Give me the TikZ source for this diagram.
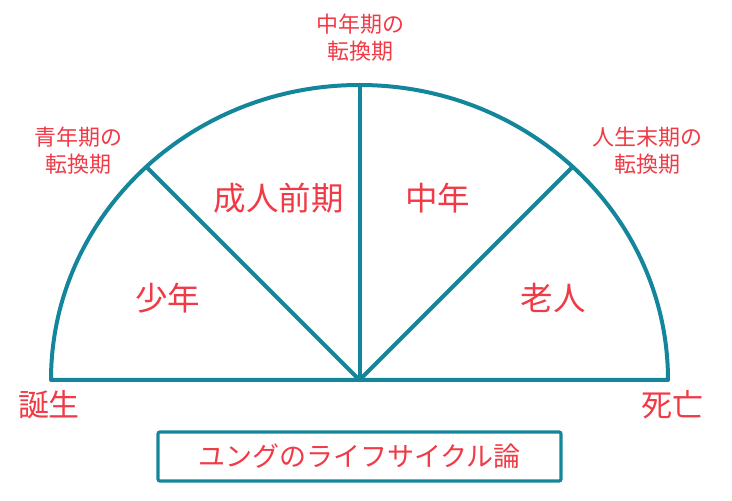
\documentclass[tikz,border=0pt]{standalone}
\usepackage{fontspec}
\newfontfamily\jpfont{Noto Sans CJK JP}
\usepackage{xcolor}
\usetikzlibrary{positioning,calc}
\definecolor{lineteal}{RGB}{20,134,156}
\definecolor{labelred}{RGB}{240,58,70}
\tikzset{
  arcline/.style={draw=lineteal, line width=4pt, line join=round},
  turnlabel/.style={text=labelred, font=\jpfont\fontsize{22}{27}\selectfont, align=center, inner sep=0pt},
  stagelabel/.style={text=labelred, font=\jpfont\fontsize{32.5}{36}\selectfont, inner sep=0pt},
  endlabel/.style={text=labelred, font=\jpfont\fontsize{31}{35}\selectfont, inner sep=0pt},
  titlebox/.style={draw=lineteal, line width=3.2pt, rounded corners=2pt, minimum width=403pt, minimum height=49pt, text=labelred, font=\jpfont\fontsize{27}{30}\selectfont}
}

\begin{document}
\begin{tikzpicture}[x=1pt, y=1pt]
        % Fix the canvas size
        \useasboundingbox (0,0) rectangle (732,501);
        \def\xrad{308.5}
        \def\yrad{295}

        % Define the centre and the points on the half circle
        \coordinate (centre) at (359.5,121);
        \coordinate (birth) at ($(centre)+(180:{\xrad})$);
        \coordinate (death) at ($(centre)+(0:{\xrad})$);
        \coordinate (youthturn) at ($(centre)+(133.72:{\xrad} and {\yrad})$);
        \coordinate (midturn) at ($(centre)+(90:{\xrad} and {\yrad})$);
        \coordinate (lateturn) at ($(centre)+(46.28:{\xrad} and {\yrad})$);

        % Draw the half circle and the dividing lines
        \draw[arcline] (birth) arc[start angle=180, end angle=0, x radius=\xrad, y radius=\yrad] -- (birth) -- cycle;
        \draw[arcline] (centre) -- (youthturn);
        \draw[arcline] (centre) -- (midturn);
        \draw[arcline] (centre) -- (lateturn);

        % Labels for the turning points
        \node[turnlabel] (youthlabel) at (78.5,350.5) {青年期の\\転換期};
        \node[turnlabel] (midlabel) at (360,463.5) {中年期の\\転換期};
        \node[turnlabel] (latelabel) at (647.5,350.5) {人生末期の\\転換期};

        % Labels for the stages
        \node[stagelabel] (boyhood) at (167.5,203) {少年};
        \node[stagelabel] (earlyadult) at (278.5,303) {成人前期};
        \node[stagelabel] (middleage) at (437.5,303) {中年};
        \node[stagelabel] (oldage) at (553,203) {老人};

        % Birth and death at both ends
        \node[endlabel] (birthlabel) at (49,96) {誕生};
        \node[endlabel] (deathlabel) at (672,96) {死亡};

        % Title in a box below
        \node[titlebox] (title) at (359.5,44.5) {ユングのライフサイクル論};
    \end{tikzpicture}
\end{document}
